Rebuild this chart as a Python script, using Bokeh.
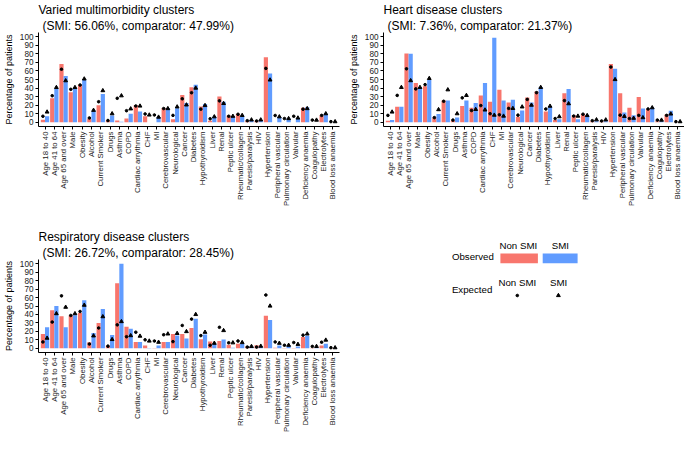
import math
from bokeh.plotting import figure
from bokeh.models import (ColumnDataSource, FactorRange, Range1d, FixedTicker, Title, Label,
                          BoxAnnotation)
from bokeh.layouts import column, row
from bokeh.transform import dodge
from bokeh.embed import file_html
from bokeh.resources import INLINE

categories = ["Age 18 to 40", "Age 41 to 64", "Age 65 and over", "Male", "Obesity", "Alcohol",
              "Current Smoker", "Drugs", "Asthma", "COPD", "Cardiac arrythmia", "CHF", "MI",
              "Cerebrovascular", "Neurological", "Cancer", "Diabetes", "Hypothyroidism", "Liver",
              "Renal", "Peptic ulcer", "Rheumatic/collagen", "Paresis/paralysis", "HIV",
              "Hypertension", "Peripheral vascular", "Pulmonary circulation", "Valvular",
              "Deficiency anaemia", "Coagulopathy", "Electrolytes", "Blood loss anaemia"]

y_ticks = [0, 10, 20, 30, 40, 50, 60, 70, 80, 90, 100]

# Varied multimorbidity clusters
varied_obs_nonsmi = [3, 28, 68, 35, 44, 4, 20, 2, 2, 4.5, 20, 7, 0, 16.7, 3.6, 32, 41, 18.5, 1.8, 30,
                     8, 10, 1.4, 1.5, 76, 0, 0, 0, 17, 0, 8, 0]
varied_obs_smi = [7, 39, 54, 40, 50, 13, 33, 8, 0.5, 10, 12.5, 0, 6, 16.7, 16.5, 22.4, 43.8, 21.4, 6.4,
                  24, 7, 8, 1.5, 2.5, 57, 6, 4.3, 4.6, 17.5, 0, 10, 0]
varied_exp_nonsmi = [7, 31, 62, 38.5, 43.5, 5, 24, 2, 28, 13.5, 19, 9.7, 8.5, 16, 8, 27.4, 34.5, 15.3,
                     4, 25, 7, 9.3, 1.8, 1.5, 63, 7.9, 4.3, 7, 15.3, 2.5, 8, 0.7]
varied_exp_smi = [12, 40.7, 48.6, 40.7, 50.7, 14, 37, 10, 31, 15.7, 19, 8.5, 6, 16, 18, 20.3, 40,
                  19.6, 6.4, 22, 7, 8, 2.8, 2.8, 49.5, 6.4, 4.3, 5, 16, 2.5, 10, 0.7]

# Heart disease clusters
heart_obs_nonsmi = [1.8, 18, 80.5, 46, 42, 5.4, 25.3, 1.8, 19, 17, 31.4, 24, 38, 23, 6.5, 29, 36,
                    12.6, 2.5, 34, 8.3, 10, 1, 1, 68, 34, 17, 29.6, 15.5, 1, 9, 0.3]
heart_obs_smi = [2.5, 18, 80, 40.8, 49.5, 9.7, 25.3, 5.4, 25.3, 22.4, 46, 99, 25.3, 26.4, 13.7, 23,
                 40.8, 19, 3.6, 39, 3.6, 8.3, 1, 1, 62.5, 11.5, 8.3, 16.2, 17, 1, 13.4, 0.3]
heart_exp_nonsmi = [8, 31.4, 62.5, 39, 44, 5.4, 24.5, 2.5, 28.5, 13.7, 19.5, 10, 8.7, 16.2, 8.3,
                    26.7, 34.6, 15.5, 4.3, 25.3, 7.2, 9.4, 1.8, 1.5, 64.6, 8.3, 4.3, 8, 15.5, 2.5, 8, 0.7]
heart_exp_smi = [12, 40.8, 48.7, 40.8, 51.3, 14.8, 38, 10, 31.4, 15, 14.4, 8.3, 7.2, 16.2, 18, 20,
                 40.8, 18.8, 6.5, 21.7, 7.2, 7.9, 2.9, 2.8, 50, 6.9, 4.7, 5.4, 17, 2.5, 9.7, 0.7]

# Respiratory disease clusters
resp_obs_nonsmi = [17, 45, 37.8, 39, 41.7, 7, 30, 3, 77, 25.5, 7.5, 3.2, 0.3, 7.5, 17, 17, 24, 10.8,
                   7.9, 8.6, 4.3, 5.4, 2.2, 3.6, 38.5, 0.5, 0.3, 0.3, 13.3, 0.3, 3.2, 0.3]
resp_obs_smi = [24.8, 50, 24.8, 39, 56.8, 18, 46.4, 15.8, 100, 23, 7.5, 0.3, 3.2, 7.5, 15, 11.5, 35,
                16.2, 5.4, 10.4, 0.5, 5.4, 2.2, 2, 33.5, 3.2, 3.2, 2.2, 14.7, 0.3, 5.4, 0.3]
resp_exp_nonsmi = [7.5, 31, 62, 38.8, 43.5, 5, 24, 2.5, 27.7, 13.7, 19, 10, 8.6, 16, 7.9, 27, 34.5,
                   15, 3.6, 24.8, 6.5, 8.6, 1.4, 1.4, 63, 7.5, 3.6, 6.8, 15.5, 2.2, 7.2, 0.7]
resp_exp_smi = [12, 41, 48.6, 41, 51, 14.7, 37.4, 10.4, 31.6, 15, 14.4, 8.6, 7.2, 17, 17.6, 19.8, 40,
                19, 6, 21, 6.5, 6.8, 2.2, 2.5, 50, 6, 3.6, 4.7, 17, 2.2, 9.7, 0.7]

titles = [("Varied multimorbidity clusters", "(SMI: 56.06%, comparator: 47.99%)"),
          ("Heart disease clusters", "(SMI: 7.36%, comparator: 21.37%)"),
          ("Respiratory disease clusters", "(SMI: 26.72%, comparator: 28.45%)")]

legend_groups = ["Non SMI", "SMI"]

RED = "#F8766D"
BLUE = "#619CFF"
FONT = "Liberation Sans"


def make_panel(title_lines, obs_n, obs_s, exp_n, exp_s, width, height, bl, br, bt, bb):
    src = ColumnDataSource(dict(cat=categories, obs_n=obs_n, obs_s=obs_s, exp_n=exp_n, exp_s=exp_s))
    xr = FactorRange(factors=categories, range_padding=0.2, range_padding_units="absolute")
    p = figure(x_range=xr, y_range=Range1d(-5, 105), width=width, height=height,
               output_backend="svg", toolbar_location=None,
               min_border_left=bl, min_border_right=br, min_border_top=bt, min_border_bottom=bb)
    p.vbar(x=dodge("cat", -0.225, range=p.x_range), top="obs_n", bottom=0, width=0.45,
           source=src, fill_color=RED, line_color=None)
    p.vbar(x=dodge("cat", 0.225, range=p.x_range), top="obs_s", bottom=0, width=0.45,
           source=src, fill_color=BLUE, line_color=None)
    p.scatter(x=dodge("cat", -0.225, range=p.x_range), y="exp_n", source=src, marker="circle",
              size=2.6, fill_color="black", line_color="black")
    p.scatter(x=dodge("cat", 0.225, range=p.x_range), y="exp_s", source=src, marker="triangle",
              size=3.8, fill_color="black", line_color="black")
    p.xgrid.visible = False
    p.ygrid.visible = False
    p.outline_line_color = None
    p.background_fill_color = "white"
    p.border_fill_color = "white"
    for ax in (p.xaxis[0], p.yaxis[0]):
        ax.axis_line_color = "black"
        ax.axis_line_width = 1
        ax.major_tick_line_color = "black"
        ax.major_tick_out = 3
        ax.major_tick_in = 0
        ax.minor_tick_line_color = None
        ax.major_label_text_font = FONT
        ax.major_label_text_color = "#222222"
        ax.major_label_standoff = 2
    p.yaxis.ticker = FixedTicker(ticks=y_ticks)
    p.yaxis.major_label_text_font_size = "8.2px"
    p.yaxis.axis_label = "Percentage of patients"
    p.yaxis.axis_label_text_font = FONT
    p.yaxis.axis_label_text_font_size = "9px"
    p.yaxis.axis_label_text_font_style = "normal"
    p.yaxis.axis_label_text_color = "black"
    p.yaxis.axis_label_standoff = 3
    p.xaxis.major_label_text_font_size = "7.8px"
    p.xaxis.major_label_orientation = math.pi / 2
    p.add_layout(Title(text=title_lines[1], align="left", text_font=FONT, text_font_size="12px",
                       text_font_style="normal", text_color="black", standoff=0, offset=4), "above")
    p.add_layout(Title(text=title_lines[0], align="left", text_font=FONT, text_font_size="12px",
                       text_font_style="normal", text_color="black", standoff=0, offset=0), "above")
    return p


TOP_H = 227
BOT_H = 208

p1 = make_panel(titles[0], varied_obs_nonsmi, varied_obs_smi, varied_exp_nonsmi, varied_exp_smi,
                345, TOP_H, 29, 6, 28, TOP_H - 28 - 98)
p2 = make_panel(titles[1], heart_obs_nonsmi, heart_obs_smi, heart_exp_nonsmi, heart_exp_smi,
                339, TOP_H, 29, 0, 28, TOP_H - 28 - 98)
p3 = make_panel(titles[2], resp_obs_nonsmi, resp_obs_smi, resp_exp_nonsmi, resp_exp_smi,
                345, BOT_H, 29, 6, 28, BOT_H - 28 - 98)

# Legend panel; coordinates are measured from the top of the bottom row.
LEG_TOP = 6
LEG_BOT = 126
leg = figure(width=339, height=BOT_H, x_range=Range1d(0, 339), y_range=Range1d(LEG_BOT, LEG_TOP),
             output_backend="svg", toolbar_location=None,
             min_border_left=0, min_border_right=0, min_border_top=LEG_TOP,
             min_border_bottom=BOT_H - LEG_BOT)
leg.axis.visible = False
leg.grid.visible = False
leg.outline_line_color = None


def add_label(fig, x, y, text, align="left"):
    fig.add_layout(Label(x=x, y=y, text=text, text_font=FONT, text_font_size="9.7px",
                         text_color="black", text_align=align, text_baseline="middle"))


add_label(leg, 106.4, 28.7, "Observed")
add_label(leg, 106.4, 62.0, "Expected")
add_label(leg, 172.8, 18.1, legend_groups[0], "center")
add_label(leg, 214.8, 18.1, legend_groups[1], "center")
add_label(leg, 171.8, 55.3, legend_groups[0], "center")
add_label(leg, 213.2, 55.3, legend_groups[1], "center")
leg.add_layout(BoxAnnotation(left=154.9, right=192.4, top=26.1, bottom=35.8, fill_color=RED,
                             fill_alpha=1, line_color=None))
leg.add_layout(BoxAnnotation(left=197.2, right=232.1, top=26.1, bottom=35.8, fill_color=BLUE,
                             fill_alpha=1, line_color=None))
leg.scatter(x=[171.8], y=[68.0], marker="circle", size=2.6, fill_color="black", line_color="black")
leg.scatter(x=[212.9], y=[68.0], marker="triangle", size=3.8, fill_color="black", line_color="black")

layout = column(row(p1, p2), row(p3, column(leg)))

open("out.html", "w").write(file_html(layout, INLINE))
